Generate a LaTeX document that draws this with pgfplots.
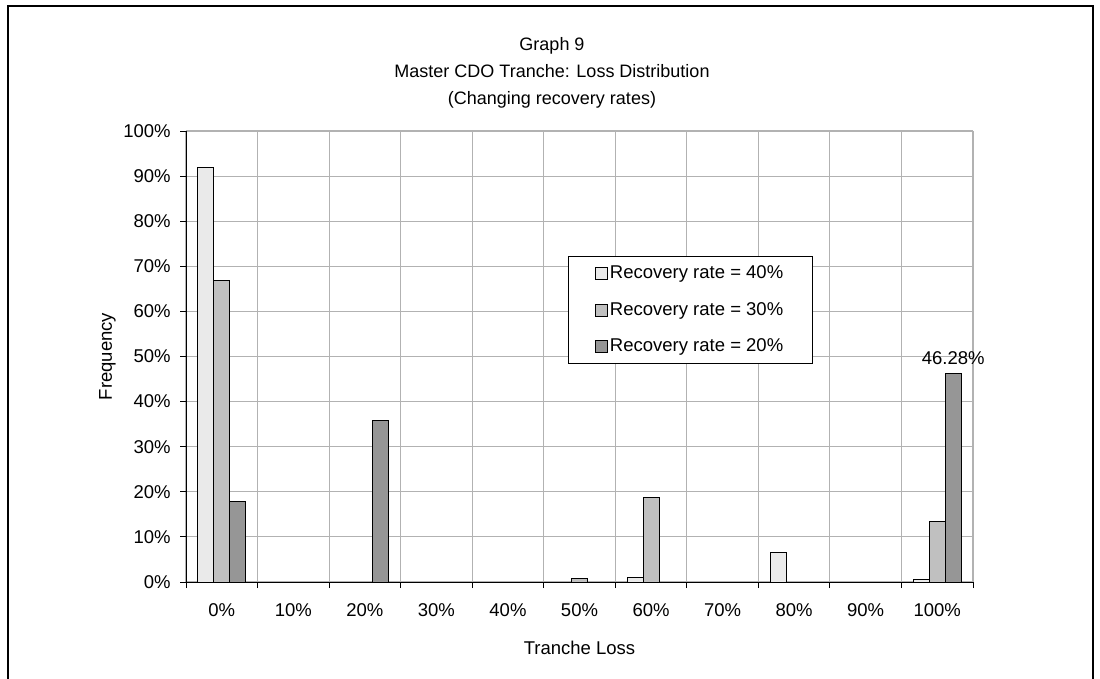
\documentclass[border=0pt]{standalone}
\usepackage{pgfplots}
\pgfplotsset{compat=1.18}
\usepackage{fontspec}
\setmainfont{Liberation Sans}
\definecolor{rr40}{RGB}{234,234,234}
\definecolor{rr30}{RGB}{192,192,192}
\definecolor{rr20}{RGB}{150,150,150}
\definecolor{gridgray}{RGB}{178,178,178}

\begin{document}
\fontsize{18.5bp}{22bp}\selectfont
\begin{tikzpicture}
\useasboundingbox (0,0) rectangle (1100bp,-679bp);
\draw[line width=1.5bp] (8bp,-700bp) -- (8bp,-6bp) -- (1093bp,-6bp) -- (1093bp,-700bp);
\node[align=center, font=\fontsize{18bp}{27bp}\selectfont] at (552bp,-73bp)
  {Graph 9\\Master CDO Tranche: Loss Distribution\\(Changing recovery rates)};
\begin{axis}[
  at={(186bp,-582bp)}, anchor=south west,
  scale only axis, width=787bp, height=451bp,
  xmin=-0.5, xmax=10.5, ymin=0, ymax=100,
  axis lines=left, axis line style={-, black, line width=1bp},
  xtick={0,...,10},
  xticklabels={0\%,10\%,20\%,30\%,40\%,50\%,60\%,70\%,80\%,90\%,100\%},
  minor xtick={-0.5,0.5,...,10.5},
  ytick={0,10,...,100},
  yticklabels={0\%,10\%,20\%,30\%,40\%,50\%,60\%,70\%,80\%,90\%,100\%},
  xminorgrids, ymajorgrids,
  grid style={gridgray, line width=1.1bp},
  minor grid style={gridgray, line width=1.1bp},
  tick align=outside, major tick length=6bp, minor tick length=6bp,
  tick style={black, line width=1bp},
  major x tick style={draw=none},
  /pgf/number format/assume math mode=true,
  xticklabel style={yshift=-9bp},
  yticklabel style={xshift=-3bp},
  xlabel={Tranche Loss}, ylabel={Frequency},
  xlabel style={yshift=-12bp},
  ylabel style={yshift=-5bp},
  ybar, bar width=16bp,
  legend style={at={(axis description cs:0.485,0.723)}, anchor=north west,
    draw=black, line width=1bp, fill=white, inner xsep=27bp, inner ysep=7bp,
    row sep=17bp},
  legend cell align=left,
  legend image code/.code={\draw[#1, line width=0.8bp] (0bp,-6bp) rectangle (12bp,6bp);},
]
\addplot[fill=rr40, draw=black, line width=1bp, bar shift=-16bp]
  coordinates {(0,91.9) (6,1.0) (8,6.5) (10,0.5)};
\addplot[fill=rr30, draw=black, line width=1bp, bar shift=0bp]
  coordinates {(0,66.9) (5,0.8) (6,18.8) (10,13.4)};
\addplot[fill=rr20, draw=black, line width=1bp, bar shift=16bp,
  point meta=explicit symbolic, nodes near coords,
  every node near coord/.append style={black, yshift=2bp}]
  coordinates {(0,17.8) [] (2,35.9) [] (10,46.28) [46.28\%]};
\legend{Recovery rate = 40\%, Recovery rate = 30\%, Recovery rate = 20\%}
\end{axis}
\end{tikzpicture}
\end{document}
